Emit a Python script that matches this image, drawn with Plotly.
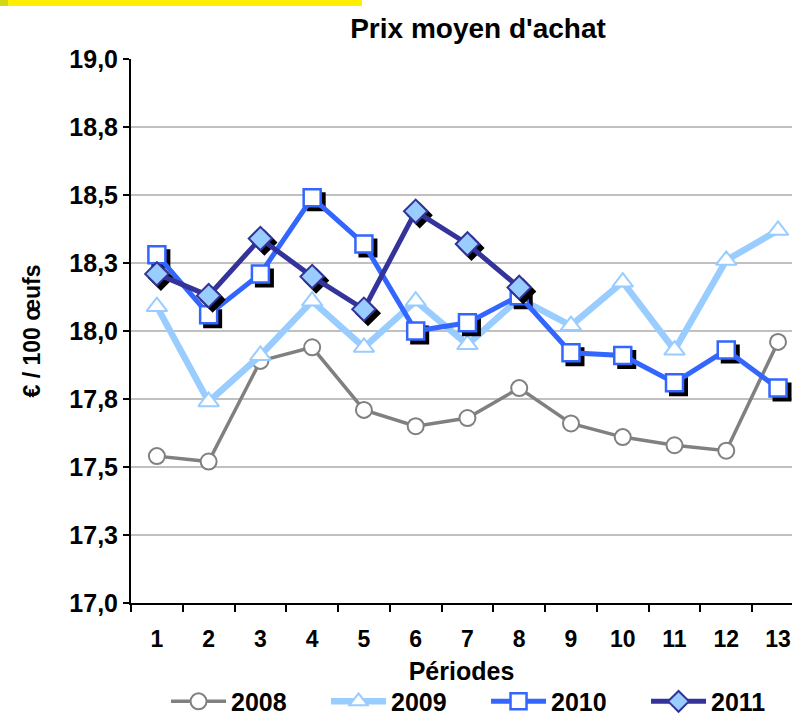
import plotly.graph_objects as go

# Periods and average purchase price (EUR per 100 eggs) per year
periods = list(range(1, 14))
prix_2008 = [17.54, 17.52, 17.89, 17.94, 17.71, 17.65, 17.68, 17.79, 17.66, 17.61, 17.58, 17.56, 17.96]
prix_2009 = [18.09, 17.74, 17.91, 18.11, 17.94, 18.11, 17.95, 18.12, 18.02, 18.18, 17.93, 18.26, 18.37]
prix_2010 = [18.28, 18.06, 18.21, 18.49, 18.32, 18.00, 18.03, 18.13, 17.92, 17.91, 17.81, 17.93, 17.79]
prix_2011 = [18.21, 18.13, 18.34, 18.20, 18.08, 18.44, 18.32, 18.16]

y_tick_vals = [17.0, 17.25, 17.5, 17.75, 18.0, 18.25, 18.5, 18.75, 19.0]
y_tick_text = ["17,0", "17,3", "17,5", "17,8", "18,0", "18,3", "18,5", "18,8", "19,0"]
x_tick_text = [str(p) for p in periods]

# Figure geometry
W, H = 792, 716
M_L, M_R, M_T, M_B = 131, 0, 59, 113
X_RANGE = [0.5, 13.27]
Y_RANGE = [17.0, 19.0]
FONT = "Liberation Sans, Arial, sans-serif"

# Drop shadow offset for the 2010 / 2011 markers, converted to data units
SHADOW_PX = 4
dx = SHADOW_PX * (X_RANGE[1] - X_RANGE[0]) / (W - M_L - M_R)
dy = SHADOW_PX * (Y_RANGE[1] - Y_RANGE[0]) / (H - M_T - M_B)


def shadow(xs, ys, symbol, size):
    return go.Scatter(
        x=[v + dx for v in xs], y=[v - dy for v in ys], mode="markers",
        marker=dict(symbol=symbol, size=size, color="black",
                    line=dict(color="black", width=2)),
        showlegend=False, hoverinfo="skip")


fig = go.Figure()

fig.add_trace(go.Scatter(
    x=periods, y=prix_2008, name="2008", mode="lines+markers",
    line=dict(color="#808080", width=3.5),
    marker=dict(symbol="circle", size=16, color="white",
                line=dict(color="#808080", width=2))))

fig.add_trace(go.Scatter(
    x=periods, y=prix_2009, name="2009", mode="lines+markers",
    line=dict(color="#99CCFF", width=6.5),
    marker=dict(symbol="triangle-up", size=18, color="white",
                line=dict(color="#99CCFF", width=2))))

fig.add_trace(shadow(periods, prix_2010, "square", 17))
fig.add_trace(go.Scatter(
    x=periods, y=prix_2010, name="2010", mode="lines+markers",
    line=dict(color="#3366FF", width=5),
    marker=dict(symbol="square", size=17, color="white",
                line=dict(color="#3366FF", width=2.5))))

periods_2011 = periods[:len(prix_2011)]
fig.add_trace(shadow(periods_2011, prix_2011, "diamond", 18))
fig.add_trace(go.Scatter(
    x=periods_2011, y=prix_2011, name="2011", mode="lines+markers",
    line=dict(color="#333399", width=5),
    marker=dict(symbol="diamond", size=18, color="#99CCFF",
                line=dict(color="#333399", width=2))))


# Yellow header strip in the top-left corner (paper coords relative to plot area)
def px_x(px):
    return (px - M_L) / (W - M_L - M_R)


def px_y(py):
    return (H - M_B - py) / (H - M_T - M_B)


fig.add_shape(type="rect", xref="paper", yref="paper",
              x0=px_x(0), x1=px_x(8), y0=px_y(6), y1=px_y(0),
              fillcolor="#D2D814", line_width=0, layer="above")
fig.add_shape(type="rect", xref="paper", yref="paper",
              x0=px_x(8), x1=px_x(362), y0=px_y(6), y1=px_y(0),
              fillcolor="#FFEE00", line_width=0, layer="above")

fig.update_layout(
    width=W, height=H,
    margin=dict(l=M_L, r=M_R, t=M_T, b=M_B, pad=0, autoexpand=False),
    paper_bgcolor="white", plot_bgcolor="white",
    font=dict(family=FONT, color="black", size=22, weight="bold"),
    title=dict(text="Prix moyen d'achat", x=478 / W, xanchor="center",
               y=1 - 28 / H, yanchor="middle", yref="container",
               font=dict(family=FONT, size=28, weight="bold", color="black")),
    xaxis=dict(
        range=X_RANGE, tickmode="array", tickvals=periods, ticktext=x_tick_text,
        showgrid=False, zeroline=False,
        showline=True, linecolor="black", linewidth=2,
        ticks="outside", ticklen=14, tickcolor="rgba(0,0,0,0)",
        tickfont=dict(size=23, weight="bold"),
        minor=dict(tickmode="array", tickvals=[p - 0.5 for p in periods] + [13.5],
                   ticks="outside", ticklen=7, tickwidth=2, tickcolor="black",
                   showgrid=False),
        title=dict(text="Périodes", standoff=12,
                   font=dict(size=25, weight="bold")),
    ),
    yaxis=dict(
        range=Y_RANGE, tickmode="array", tickvals=y_tick_vals, ticktext=y_tick_text,
        showgrid=True, gridcolor="#C0C0C0", gridwidth=2, zeroline=False,
        showline=True, linecolor="black", linewidth=2,
        ticks="outside", ticklen=6, tickwidth=2, tickcolor="black",
        tickfont=dict(size=25, weight="bold"),
        title=dict(text="€ / 100 œufs", standoff=22,
                   font=dict(size=23, weight="bold")),
    ),
    legend=dict(
        orientation="h", x=0.053, xanchor="left", y=-0.139, yanchor="top",
        font=dict(size=25, weight="bold"), bgcolor="rgba(0,0,0,0)",
        itemwidth=55, entrywidth=90, tracegroupgap=0,
    ),
    showlegend=True,
)

fig.write_html("out.html")
